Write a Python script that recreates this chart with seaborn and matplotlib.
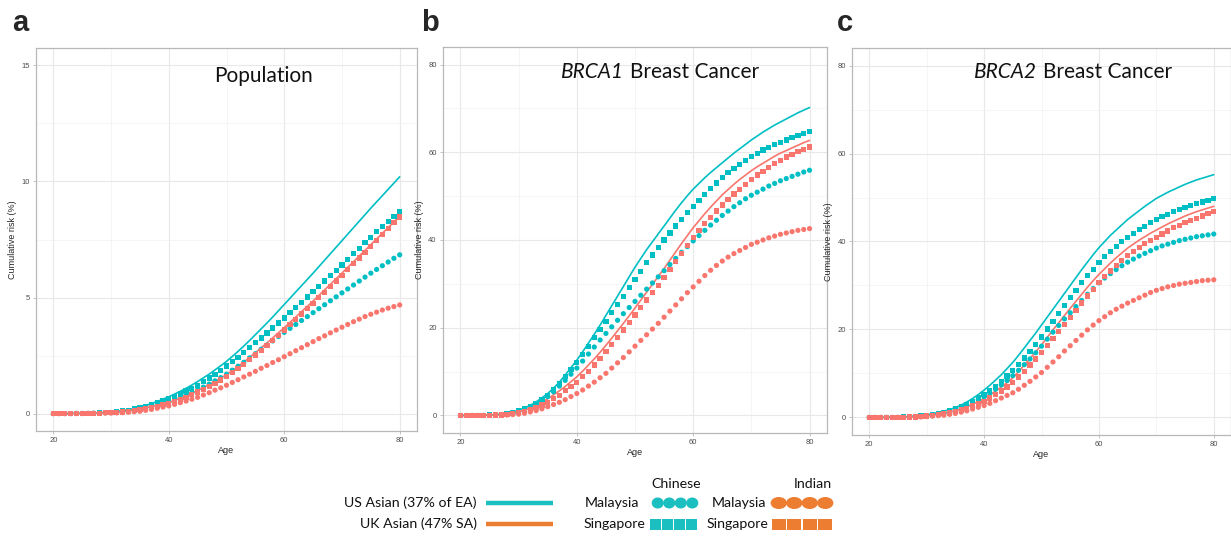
import matplotlib
matplotlib.use("Agg")
import matplotlib.pyplot as plt
import numpy as np
import pandas as pd
import seaborn as sns
from matplotlib.lines import Line2D
from matplotlib.patches import Rectangle, Ellipse

# ---------------- data ----------------
ages = list(range(20, 81))

# Panel a: Population
a_us = [0.00,0.00,0.00,0.01,0.01,0.01, 0.02,0.03,0.04,0.05,0.07, 0.10,0.13,0.17,0.22,0.28,
        0.35,0.43,0.52,0.62,0.72, 0.84,0.96,1.09,1.23,1.38, 1.54,1.70,1.88,2.06,2.25,
        2.46,2.68,2.91,3.15,3.40, 3.65,3.90,4.16,4.43,4.70, 4.97,5.24,5.51,5.78,6.05,
        6.33,6.61,6.89,7.17,7.45, 7.73,8.01,8.29,8.57,8.85, 9.12,9.39,9.66,9.93,10.20]
a_cs = [0.00,0.00,0.00,0.01,0.01,0.01, 0.02,0.02,0.03,0.04,0.06, 0.08,0.11,0.15,0.20,0.25,
        0.31,0.39,0.47,0.56,0.65, 0.75,0.85,0.97,1.09,1.22, 1.37,1.53,1.69,1.87,2.05,
        2.24,2.43,2.63,2.84,3.05, 3.26,3.47,3.69,3.90,4.12, 4.34,4.56,4.79,5.02,5.25,
        5.48,5.71,5.94,6.17,6.40, 6.64,6.88,7.12,7.36,7.60, 7.83,8.06,8.28,8.50,8.72]
a_uk = [0.00,0.00,0.00,0.00,0.01,0.01, 0.01,0.02,0.03,0.04,0.05, 0.07,0.09,0.12,0.16,0.20,
        0.25,0.30,0.35,0.41,0.48, 0.57,0.67,0.77,0.88,1.00, 1.12,1.25,1.39,1.53,1.68,
        1.85,2.03,2.22,2.42,2.62, 2.83,3.04,3.26,3.48,3.70, 3.93,4.16,4.39,4.62,4.85,
        5.09,5.33,5.57,5.81,6.05, 6.30,6.54,6.79,7.03,7.28, 7.52,7.77,8.01,8.26,8.50]
a_is = [0.00,0.00,0.00,0.00,0.00,0.01, 0.01,0.01,0.02,0.03,0.04, 0.05,0.07,0.10,0.13,0.17,
        0.21,0.26,0.32,0.38,0.44, 0.52,0.61,0.71,0.82,0.93, 1.05,1.18,1.31,1.45,1.60,
        1.77,1.94,2.13,2.32,2.52, 2.73,2.94,3.16,3.38,3.60, 3.83,4.06,4.29,4.52,4.75,
        4.99,5.23,5.47,5.71,5.95, 6.20,6.45,6.70,6.95,7.20, 7.45,7.71,7.96,8.22,8.47]
a_cm = [0.00,0.00,0.00,0.00,0.01,0.01, 0.01,0.02,0.03,0.04,0.05, 0.07,0.09,0.12,0.16,0.20,
        0.25,0.31,0.37,0.43,0.50, 0.59,0.69,0.79,0.90,1.02, 1.14,1.27,1.41,1.55,1.70,
        1.87,2.04,2.21,2.40,2.58, 2.77,2.95,3.13,3.32,3.50, 3.67,3.84,4.01,4.18,4.35,
        4.52,4.69,4.86,5.03,5.20, 5.37,5.54,5.71,5.88,6.05, 6.21,6.37,6.53,6.69,6.84]
a_im = [0.00,0.00,0.00,0.00,0.00,0.00, 0.01,0.01,0.01,0.02,0.02, 0.03,0.04,0.06,0.08,0.10,
        0.14,0.18,0.23,0.28,0.33, 0.40,0.47,0.54,0.62,0.70, 0.80,0.90,1.01,1.11,1.22,
        1.34,1.46,1.58,1.70,1.82, 1.95,2.07,2.20,2.32,2.45, 2.58,2.71,2.84,2.97,3.10,
        3.23,3.35,3.48,3.60,3.72, 3.84,3.96,4.07,4.18,4.28, 4.37,4.46,4.54,4.61,4.68]

# Panel b: BRCA1
b_us = [0.0,0.0,0.0,0.0,0.1,0.1, 0.2,0.3,0.5,0.8,1.2, 1.7,2.3,3.1,4.0,5.0,
        6.2,7.6,9.2,10.9,12.6, 14.5,16.5,18.5,20.6,22.8, 25.0,27.2,29.4,31.6,33.8,
        35.8,37.8,39.6,41.4,43.2, 45.0,46.8,48.5,50.1,51.6, 52.9,54.2,55.4,56.5,57.6,
        58.7,59.8,60.8,61.8,62.8, 63.7,64.6,65.4,66.2,66.9, 67.6,68.3,69.0,69.6,70.2]
b_cs = [0.0,0.0,0.0,0.0,0.0,0.1, 0.2,0.3,0.4,0.7,1.0, 1.5,2.1,2.8,3.6,4.6,
        5.9,7.3,8.8,10.4,12.0, 13.9,15.8,17.7,19.6,21.5, 23.4,25.3,27.2,29.1,31.0,
        32.9,34.8,36.6,38.3,40.0, 41.6,43.2,44.7,46.2,47.6, 49.0,50.4,51.7,53.0,54.2,
        55.3,56.3,57.2,58.1,59.0, 59.8,60.5,61.1,61.7,62.3, 62.8,63.3,63.8,64.3,64.8]
b_uk = [0.0,0.0,0.0,0.0,0.0,0.1, 0.1,0.2,0.3,0.5,0.8, 1.2,1.7,2.3,3.0,3.8,
        4.7,5.6,6.6,7.7,8.8, 10.1,11.5,12.9,14.4,16.0, 17.6,19.3,21.0,22.7,24.5,
        26.3,28.1,29.9,31.7,33.5, 35.4,37.3,39.2,41.0,42.8, 44.4,46.0,47.5,48.9,50.3,
        51.5,52.7,53.8,54.8,55.8, 56.7,57.5,58.3,59.1,59.8, 60.4,61.0,61.6,62.2,62.7]
b_is = [0.0,0.0,0.0,0.0,0.0,0.0, 0.1,0.1,0.2,0.4,0.6, 0.9,1.3,1.8,2.4,3.0,
        3.8,4.6,5.6,6.6,7.6, 8.8,10.1,11.5,13.0,14.5, 16.1,17.8,19.5,21.2,22.9,
        24.6,26.3,28.0,29.7,31.5, 33.3,35.1,36.9,38.7,40.5, 42.1,43.7,45.2,46.6,48.0,
        49.3,50.5,51.6,52.7,53.8, 54.8,55.7,56.6,57.4,58.2, 58.9,59.5,60.1,60.7,61.2]
b_cm = [0.0,0.0,0.0,0.0,0.0,0.0, 0.1,0.2,0.3,0.5,0.8, 1.3,1.9,2.6,3.4,4.3,
        5.4,6.7,8.0,9.4,10.8, 12.4,14.0,15.6,17.2,18.7, 20.2,21.7,23.2,24.6,26.0,
        27.4,28.8,30.2,31.6,33.0, 34.4,35.8,37.2,38.5,39.8, 41.0,42.2,43.4,44.5,45.6,
        46.6,47.6,48.5,49.4,50.2, 50.9,51.6,52.3,52.9,53.5, 54.0,54.5,55.0,55.5,55.9]
b_im = [0.0,0.0,0.0,0.0,0.0,0.0, 0.0,0.1,0.1,0.2,0.3, 0.5,0.8,1.1,1.5,2.0,
        2.5,3.0,3.6,4.3,5.0, 5.8,6.7,7.6,8.6,9.6, 10.8,12.0,13.2,14.5,15.8,
        17.1,18.4,19.7,21.0,22.4, 23.8,25.2,26.6,28.0,29.3, 30.6,31.9,33.1,34.2,35.2,
        36.1,36.9,37.6,38.3,39.0, 39.5,40.0,40.5,40.9,41.3, 41.6,41.9,42.2,42.4,42.6]

# Panel c: BRCA2
c_us = [0.0,0.0,0.0,0.0,0.0,0.1, 0.1,0.2,0.3,0.4,0.6, 0.8,1.1,1.4,1.8,2.2,
        2.8,3.5,4.3,5.2,6.2, 7.3,8.5,9.7,11.1,12.5, 14.1,15.8,17.5,19.2,21.0,
        22.8,24.6,26.4,28.2,30.0, 31.8,33.6,35.3,37.0,38.6, 40.0,41.4,42.6,43.8,45.0,
        46.0,47.0,48.0,48.9,49.8, 50.5,51.2,51.8,52.4,53.0, 53.5,54.0,54.4,54.8,55.2]
c_cs = [0.0,0.0,0.0,0.0,0.0,0.0, 0.1,0.1,0.2,0.3,0.5, 0.7,0.9,1.2,1.5,1.9,
        2.4,3.0,3.7,4.4,5.2, 6.1,7.1,8.2,9.4,10.6, 12.0,13.5,15.0,16.6,18.3,
        20.1,21.9,23.7,25.5,27.2, 28.9,30.6,32.2,33.7,35.2, 36.5,37.7,38.9,40.0,41.0,
        41.9,42.7,43.5,44.3,45.0, 45.6,46.2,46.8,47.3,47.8, 48.2,48.6,49.0,49.4,49.7]
c_uk = [0.0,0.0,0.0,0.0,0.0,0.0, 0.1,0.1,0.2,0.3,0.4, 0.5,0.7,0.9,1.2,1.5,
        1.9,2.4,3.0,3.6,4.3, 5.1,6.0,6.9,7.9,9.0, 10.4,11.9,13.4,14.9,16.5,
        18.2,19.9,21.5,23.2,24.8, 26.4,28.0,29.6,31.1,32.5, 33.8,35.1,36.3,37.4,38.5,
        39.4,40.3,41.1,41.9,42.6, 43.3,44.0,44.6,45.2,45.8, 46.3,46.8,47.2,47.6,48.0]
c_is = [0.0,0.0,0.0,0.0,0.0,0.0, 0.0,0.1,0.1,0.2,0.3, 0.4,0.6,0.8,1.0,1.3,
        1.7,2.1,2.6,3.1,3.7, 4.4,5.2,6.0,6.9,7.9, 9.2,10.5,11.9,13.3,14.8,
        16.4,18.0,19.6,21.2,22.8, 24.4,26.0,27.6,29.1,30.6, 32.0,33.3,34.5,35.7,36.8,
        37.8,38.7,39.5,40.3,41.0, 41.7,42.4,43.1,43.7,44.3, 44.8,45.3,45.8,46.3,46.8]
c_cm = [0.0,0.0,0.0,0.0,0.0,0.0, 0.1,0.1,0.2,0.3,0.4, 0.6,0.8,1.0,1.3,1.6,
        2.1,2.7,3.3,4.0,4.7, 5.5,6.4,7.4,8.4,9.5, 10.7,12.0,13.3,14.7,16.2,
        17.8,19.4,20.9,22.4,23.8, 25.2,26.6,28.0,29.3,30.6, 31.7,32.7,33.6,34.5,35.3,
        36.0,36.7,37.3,37.9,38.5, 39.0,39.4,39.8,40.2,40.5, 40.8,41.1,41.3,41.5,41.7]
c_im = [0.0,0.0,0.0,0.0,0.0,0.0, 0.0,0.0,0.1,0.1,0.2, 0.3,0.4,0.5,0.7,0.9,
        1.2,1.5,1.9,2.3,2.7, 3.2,3.8,4.4,5.0,5.6, 6.4,7.3,8.2,9.2,10.2,
        11.4,12.6,13.8,15.1,16.3, 17.5,18.7,19.9,21.0,22.0, 22.9,23.8,24.6,25.3,26.0,
        26.6,27.2,27.8,28.4,28.9, 29.3,29.7,30.0,30.3,30.5, 30.7,30.9,31.1,31.2,31.3]

panel_letters = ["a", "b", "c"]
x_ticks = [20, 40, 60, 80]
a_yticks = [0, 5, 10, 15]
bc_yticks = [0, 20, 40, 60, 80]
legend_line_labels = ["US Asian (37% of EA)", "UK Asian (47% SA)"]
legend_groups = ["Chinese", "Indian"]
legend_countries = ["Malaysia", "Singapore"]

# ---------------- style ----------------
TEAL = "#00BFC4"
RED = "#F8766D"
LEG_TEAL = "#1CBFBF"
LEG_ORANGE = "#ED7D31"

sns.set_theme(style="white")
plt.rcParams["font.family"] = ["Liberation Sans", "DejaVu Sans"]

fig = plt.figure(figsize=(12.31, 5.42), dpi=100)
fig.patch.set_facecolor("white")

W, H = 1231.0, 542.0
def fbox(l, t, r, b):
    return [l / W, 1 - b / H, (r - l) / W, (b - t) / H]

axes = [fig.add_axes(fbox(36, 48, 417, 431)),
        fig.add_axes(fbox(443, 47, 827, 433)),
        fig.add_axes(fbox(852, 48, 1231, 435))]

# title parts: (italic part, regular part, split x fraction, y fraction)
panels = [
    (a_us, a_uk, a_cm, a_cs, a_im, a_is, (-0.75, 15.75), a_yticks, [2.5, 7.5, 12.5],
     ("", "Population", 0.596, 0.927)),
    (b_us, b_uk, b_cm, b_cs, b_im, b_is, (-4, 84), bc_yticks, [10, 30, 50, 70],
     ("BRCA1", "Breast Cancer", 0.478, 0.935)),
    (c_us, c_uk, c_cm, c_cs, c_im, c_is, (-4, 84), bc_yticks, [10, 30, 50, 70],
     ("BRCA2", "Breast Cancer", 0.497, 0.938)),
]

TF = dict(fontsize=15, family="Lato", color="#111111", va="center")

n = len(ages)
for ax, (us, uk, cm, cs, im, is_, ylim, yt, ymin, ttl) in zip(axes, panels):
    ax.set_facecolor("white")
    ax.set_xlim(17, 83)
    ax.set_ylim(*ylim)
    ax.set_xticks(x_ticks)
    ax.set_xticks([30, 50, 70], minor=True)
    ax.set_yticks(yt)
    ax.set_yticks(ymin, minor=True)
    ax.grid(True, which="major", color="#e8e8e8", linewidth=0.8, zorder=0)
    ax.grid(True, which="minor", color="#f1f1f1", linewidth=0.5, zorder=0)
    ax.set_axisbelow(True)

    lines_df = pd.DataFrame({"Age": ages * 2, "Risk": us + uk,
                             "Group": ["US"] * n + ["UK"] * n})
    sns.lineplot(data=lines_df, x="Age", y="Risk", hue="Group",
                 palette={"US": TEAL, "UK": RED}, linewidth=1.2, ax=ax,
                 legend=False, zorder=2)

    pts_df = pd.DataFrame({
        "Age": ages * 4,
        "Risk": cm + cs + im + is_,
        "Eth": ["Chinese"] * (2 * n) + ["Indian"] * (2 * n),
        "Country": (["Malaysia"] * n + ["Singapore"] * n) * 2,
    })
    sns.scatterplot(data=pts_df, x="Age", y="Risk", hue="Eth", style="Country",
                    markers={"Malaysia": "o", "Singapore": "s"},
                    palette={"Chinese": TEAL, "Indian": RED},
                    s=14, linewidth=0, ax=ax, legend=False, zorder=3)

    for sp in ax.spines.values():
        sp.set_visible(True)
        sp.set_color("#b8b8b8")
        sp.set_linewidth(0.9)
    ax.tick_params(axis="both", which="major", labelsize=5.5, labelcolor="#4d4d4d",
                   length=2.5, width=0.6, color="#b8b8b8", pad=2, bottom=True, left=True)
    ax.tick_params(axis="both", which="minor", length=0)
    ax.set_xlabel("Age", fontsize=6.5, labelpad=1.5)
    ax.set_ylabel("Cumulative risk (%)", fontsize=6.5, labelpad=3)

    ital, reg, tx, ty = ttl
    if ital:
        ax.text(tx - 0.008, ty, ital, transform=ax.transAxes, ha="right",
                style="italic", **TF)
        ax.text(tx + 0.008, ty, reg, transform=ax.transAxes, ha="left", **TF)
    else:
        ax.text(tx, ty, reg, transform=ax.transAxes, ha="center", **TF)

# panel letters
for letter, x in zip(panel_letters, [12, 421, 837]):
    fig.text(x / W, 1 - 31 / H, letter, fontsize=21, fontweight="bold",
             family="Liberation Sans", ha="left", va="baseline")

# ---------------- custom legend ----------------
lg = fig.add_axes([0, 0, 1, 1], zorder=5)
lg.set_xlim(0, W)
lg.set_ylim(H, 0)
lg.axis("off")
lg.patch.set_alpha(0)

LF = dict(fontsize=10.2, family="Lato", color="#111111", va="center")
lg.text(477, 503, legend_line_labels[0], ha="right", **LF)
lg.text(477, 524, legend_line_labels[1], ha="right", **LF)
lg.add_line(Line2D([486, 553], [503, 503], color=LEG_TEAL, linewidth=3.2, solid_capstyle="butt"))
lg.add_line(Line2D([486, 553], [524, 524], color=LEG_ORANGE, linewidth=3.2, solid_capstyle="butt"))

lg.text(676, 484, legend_groups[0], ha="center", **LF)
lg.text(813, 484, legend_groups[1], ha="center", **LF)
lg.text(612, 503, legend_countries[0], ha="center", **LF)
lg.text(614, 524, legend_countries[1], ha="center", **LF)
lg.text(739, 503, legend_countries[0], ha="center", **LF)
lg.text(737, 524, legend_countries[1], ha="center", **LF)

def circles(x0, x1, y, color, h):
    d = (x1 - x0) / 4.0
    for i in range(4):
        lg.add_patch(Ellipse((x0 + d * (i + 0.5), y), d * 1.05, h, color=color, lw=0))

def squares(x0, x1, y, color):
    d = (x1 - x0) / 4.0
    for i in range(4):
        lg.add_patch(Rectangle((x0 + d * i + 0.7, y - 5.5), d - 1.4, 11, color=color, lw=0))

circles(652, 698, 503, LEG_TEAL, 11)
squares(649, 698, 524, LEG_TEAL)
circles(771, 833, 503, LEG_ORANGE, 12)
squares(771, 833, 524, LEG_ORANGE)

fig.savefig("out.png", dpi=100, facecolor="white")
